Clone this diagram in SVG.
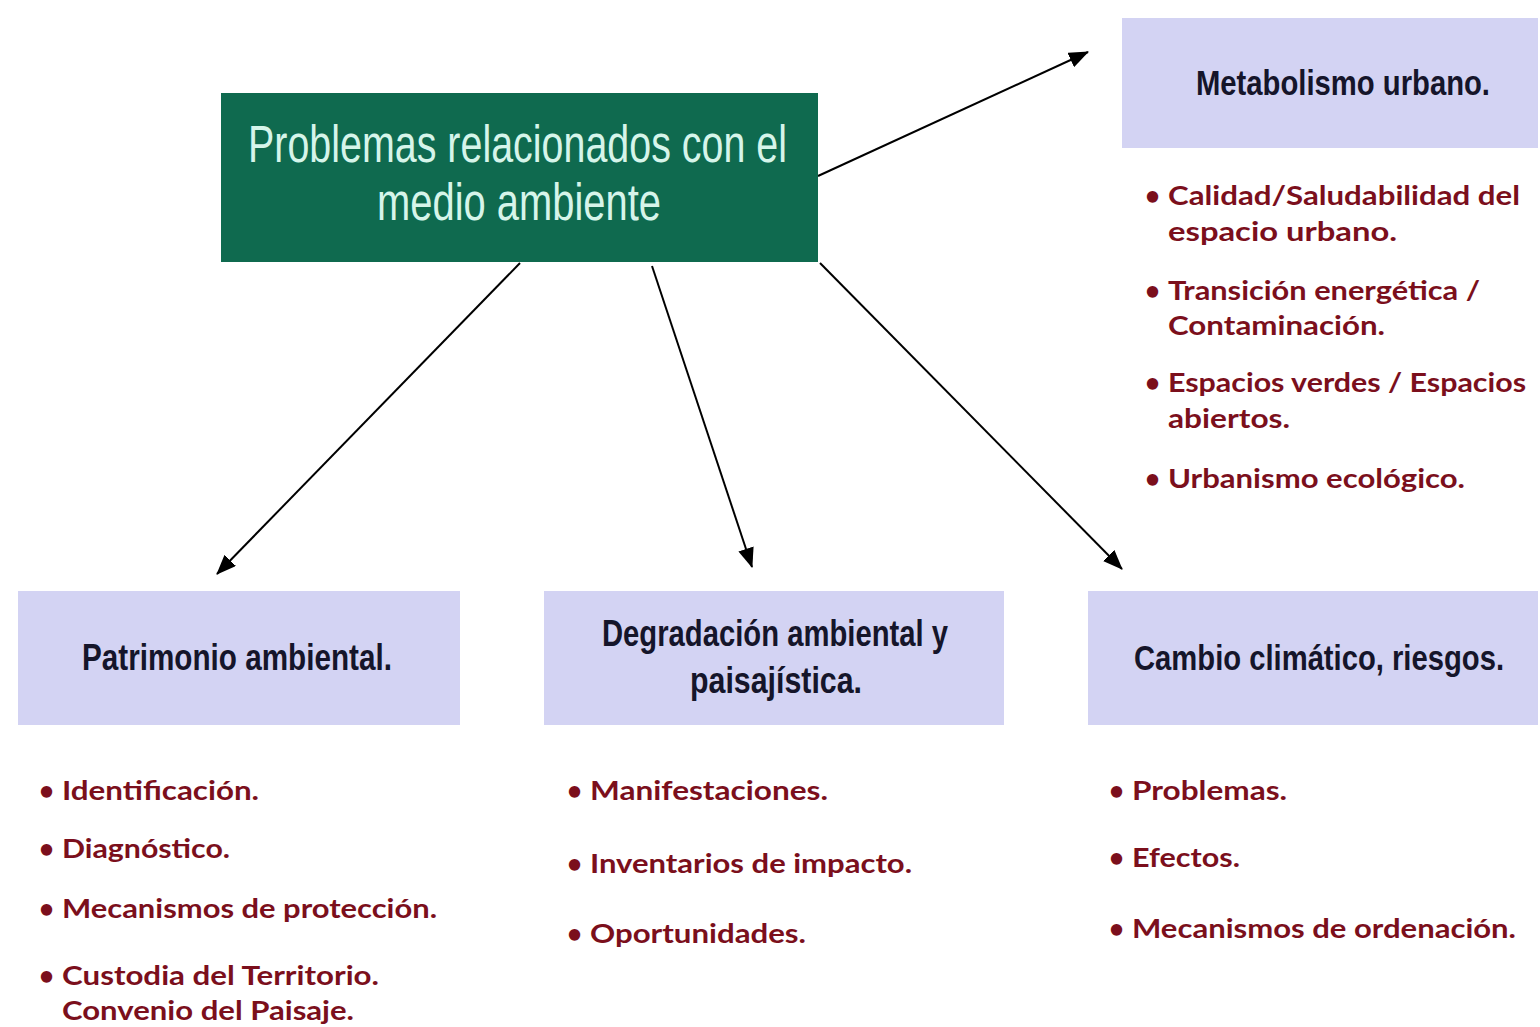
<svg xmlns="http://www.w3.org/2000/svg" width="1540" height="1027" viewBox="0 0 1540 1027">
<style>
.main{font-family:"Liberation Sans",Arial,sans-serif;font-size:51px;fill:#d6f5ea}
.box{fill:#d3d3f3}
.head{font-family:"Liberation Sans",Arial,sans-serif;font-weight:bold;font-size:36px;fill:#15152a}
.b{font-family:Lato,"Open Sans",sans-serif;font-weight:bold;font-size:26px;fill:#7b0f1c}
.conn{stroke:#000;stroke-width:2;fill:none}
</style>
<defs>
<marker id="arr" viewBox="0 0 20 16" refX="19" refY="8" markerWidth="20" markerHeight="16" markerUnits="userSpaceOnUse" orient="auto">
<path d="M0,0 L20,8 L0,16 z" fill="#000"/>
</marker>
</defs>
<rect width="1540" height="1027" fill="#fff"/>

<g id="connectors">
<line class="conn" x1="818" y1="176" x2="1088" y2="52" marker-end="url(#arr)"/>
<line class="conn" x1="520" y1="263" x2="217" y2="574" marker-end="url(#arr)"/>
<line class="conn" x1="652" y1="266" x2="752" y2="567" marker-end="url(#arr)"/>
<line class="conn" x1="820" y1="263" x2="1122" y2="569" marker-end="url(#arr)"/>
</g>

<g id="main">
<rect x="221" y="93" width="597" height="169" fill="#0f6a4f"/>
<text class="main" x="248" y="162" textLength="539" lengthAdjust="spacingAndGlyphs">Problemas relacionados con el</text>
<text class="main" x="377" y="220" textLength="284" lengthAdjust="spacingAndGlyphs">medio ambiente</text>
</g>

<g id="metabolismo">
<rect class="box" x="1122" y="18" width="416" height="130"/>
<text class="head" transform="translate(1196,95) scale(0.8,1)" x="0" y="0" textLength="367.5" lengthAdjust="spacingAndGlyphs">Metabolismo urbano.</text>
</g>

<g id="metabolismo-items">
<text class="b" x="1145" y="205">•</text>
<text class="b" x="1168" y="205" textLength="352" lengthAdjust="spacingAndGlyphs">Calidad/Saludabilidad del</text>
<text class="b" x="1168" y="241" textLength="229" lengthAdjust="spacingAndGlyphs">espacio urbano.</text>
<text class="b" x="1145" y="300">•</text>
<text class="b" x="1168" y="300" textLength="312" lengthAdjust="spacingAndGlyphs">Transición energética /</text>
<text class="b" x="1168" y="335" textLength="217" lengthAdjust="spacingAndGlyphs">Contaminación.</text>
<text class="b" x="1145" y="392">•</text>
<text class="b" x="1168" y="392" textLength="358" lengthAdjust="spacingAndGlyphs">Espacios verdes / Espacios</text>
<text class="b" x="1168" y="428" textLength="122" lengthAdjust="spacingAndGlyphs">abiertos.</text>
<text class="b" x="1145" y="488">•</text>
<text class="b" x="1168" y="488" textLength="297" lengthAdjust="spacingAndGlyphs">Urbanismo ecológico.</text>
</g>

<g id="patrimonio">
<rect class="box" x="18" y="591" width="442" height="134"/>
<text class="head" x="82" y="670" textLength="310" lengthAdjust="spacingAndGlyphs">Patrimonio ambiental.</text>
</g>

<g id="degradacion">
<rect class="box" x="544" y="591" width="460" height="134"/>
<text class="head" x="602" y="646" textLength="346" lengthAdjust="spacingAndGlyphs">Degradación ambiental y</text>
<text class="head" x="690" y="693" textLength="172" lengthAdjust="spacingAndGlyphs">paisajística.</text>
</g>

<g id="cambio">
<rect class="box" x="1088" y="591" width="450" height="134"/>
<text class="head" transform="translate(1134,670) scale(0.8,1)" x="0" y="0" textLength="462.5" lengthAdjust="spacingAndGlyphs">Cambio climático, riesgos.</text>
</g>

<g id="patrimonio-items">
<text class="b" x="39" y="800">•</text>
<text class="b" x="62" y="800" textLength="197" lengthAdjust="spacingAndGlyphs">Identificación.</text>
<text class="b" x="39" y="858">•</text>
<text class="b" x="62" y="858" textLength="168" lengthAdjust="spacingAndGlyphs">Diagnóstico.</text>
<text class="b" x="39" y="918">•</text>
<text class="b" x="62" y="918" textLength="375" lengthAdjust="spacingAndGlyphs">Mecanismos de protección.</text>
<text class="b" x="39" y="985">•</text>
<text class="b" x="62" y="985" textLength="317" lengthAdjust="spacingAndGlyphs">Custodia del Territorio.</text>
<text class="b" x="62" y="1020" textLength="292" lengthAdjust="spacingAndGlyphs">Convenio del Paisaje.</text>
</g>

<g id="degradacion-items">
<text class="b" x="567" y="800">•</text>
<text class="b" x="590" y="800" textLength="238" lengthAdjust="spacingAndGlyphs">Manifestaciones.</text>
<text class="b" x="567" y="873">•</text>
<text class="b" x="590" y="873" textLength="322" lengthAdjust="spacingAndGlyphs">Inventarios de impacto.</text>
<text class="b" x="567" y="943">•</text>
<text class="b" x="590" y="943" textLength="216" lengthAdjust="spacingAndGlyphs">Oportunidades.</text>
</g>

<g id="cambio-items">
<text class="b" x="1109" y="800">•</text>
<text class="b" x="1132" y="800" textLength="155" lengthAdjust="spacingAndGlyphs">Problemas.</text>
<text class="b" x="1109" y="867">•</text>
<text class="b" x="1132" y="867" textLength="108" lengthAdjust="spacingAndGlyphs">Efectos.</text>
<text class="b" x="1109" y="938">•</text>
<text class="b" x="1132" y="938" textLength="384" lengthAdjust="spacingAndGlyphs">Mecanismos de ordenación.</text>
</g>
</svg>
